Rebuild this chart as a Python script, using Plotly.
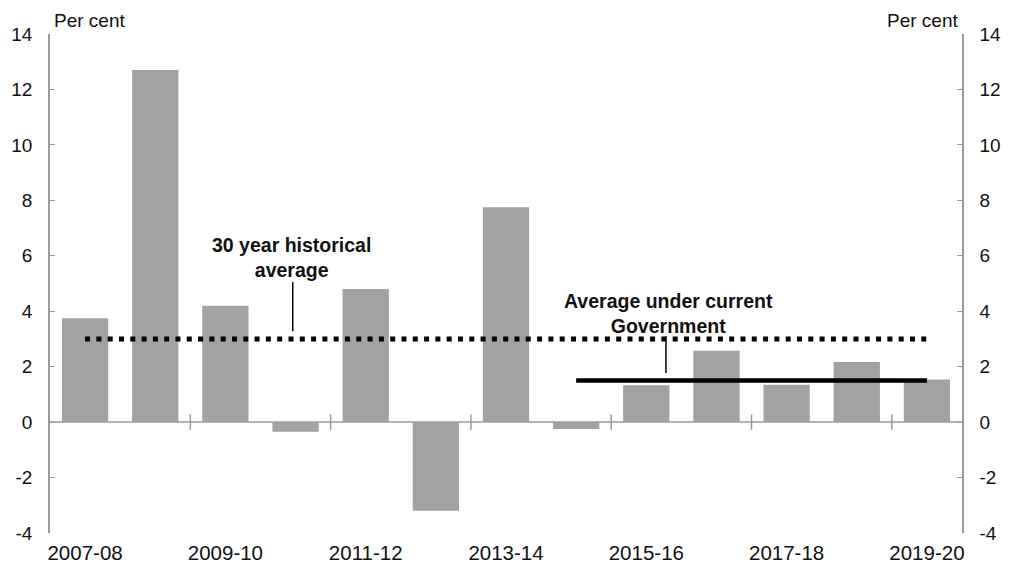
import plotly.graph_objects as go

# financial years and annual growth (per cent)
years = ['2007-08', '2008-09', '2009-10', '2010-11', '2011-12', '2012-13', '2013-14',
         '2014-15', '2015-16', '2016-17', '2017-18', '2018-19', '2019-20']
growth = [3.75, 12.7, 4.2, -0.35, 4.8, -3.2, 7.75, -0.25, 1.33, 2.57, 1.35, 2.17, 1.54]

hist_avg = 3.0          # 30 year historical average
hist_span = ['2007-08', '2019-20']
gov_avg = 1.5           # average under current Government
gov_span = ['2014-15', '2019-20']

yticks = [-4, -2, 0, 2, 4, 6, 8, 10, 12, 14]
ylabels = ['-4', '-2', '0', '2', '4', '6', '8', '10', '12', '14']

FONT = 'Liberation Sans, Arial, sans-serif'
AXIS = '#9a9a9a'

xs = list(range(len(years)))
idx = {y: i for i, y in enumerate(years)}

fig = go.Figure()
fig.add_trace(go.Bar(x=xs, y=growth, marker=dict(color='#a2a2a2', line=dict(width=0)),
                     hoverinfo='x+y'))

# average lines
fig.add_trace(go.Scatter(x=[idx[hist_span[0]], idx[hist_span[1]]], y=[hist_avg, hist_avg],
                         mode='lines', line=dict(color='black', width=5, dash='5px,6.3px')))
fig.add_trace(go.Scatter(x=[idx[gov_span[0]], idx[gov_span[1]]], y=[gov_avg, gov_avg],
                         mode='lines', line=dict(color='black', width=4.5)))

# small ticks on the zero line between pairs of years
fig.add_trace(go.Scatter(x=[i + 0.5 for i in xs[1:-1:2]], y=[0] * len(xs[1:-1:2]),
                         mode='markers', marker=dict(symbol='line-ns', size=11,
                                                     line=dict(color=AXIS, width=1.5)),
                         hoverinfo='skip'))

# leader lines for the labels
fig.add_shape(type='line', x0=2.96, x1=2.96, y0=3.28, y1=5.05, line=dict(color='black', width=1.5))
fig.add_shape(type='line', x0=8.28, x1=8.28, y0=1.77, y1=3.1, line=dict(color='black', width=1.5))

fig.add_annotation(x=2.94, y=5.95, text='<b>30 year historical<br>average</b>', showarrow=False,
                   font=dict(family=FONT, size=19.5, color='#111'))
fig.add_annotation(x=8.32, y=3.9, text='<b>Average under current<br>Government</b>', showarrow=False,
                   font=dict(family=FONT, size=19.5, color='#111'))

# axis titles
fig.add_annotation(xref='paper', yref='paper', x=0.002, y=1.0, yanchor='bottom', yshift=1,
                   xanchor='left', text='Per cent', showarrow=False,
                   font=dict(family=FONT, size=19, color='#111'))
fig.add_annotation(xref='paper', yref='paper', x=0.998, y=1.0, yanchor='bottom', yshift=1,
                   xanchor='right', text='Per cent', showarrow=False,
                   font=dict(family=FONT, size=19, color='#111'))

yax = dict(range=[-4, 14], tickvals=yticks, ticktext=ylabels, ticks='inside', ticklen=5,
           tickcolor=AXIS, showline=True, linecolor=AXIS, linewidth=1.5, showgrid=False,
           zeroline=False, automargin=False, ticklabelstandoff=12,
           tickfont=dict(family=FONT, size=19, color='#111'))

# page body has an 8px margin, so the figure is sized to fit inside the window
fig.update_layout(
    width=1001, height=559,
    margin=dict(l=42, r=47, t=26, b=34),
    paper_bgcolor='white', plot_bgcolor='white',
    showlegend=False, bargap=0.34,
    xaxis=dict(range=[-0.5, len(years) - 0.5], tickvals=xs[::2], ticktext=years[::2],
               ticks='', showline=False, showgrid=False, zeroline=False, automargin=False,
               ticklabelstandoff=5,
               tickfont=dict(family=FONT, size=20.5, color='#111')),
    yaxis=dict(**yax, side='left'),
    yaxis2=dict(**yax, side='right', overlaying='y', matches='y'),
)
# zero line across the plot
fig.add_hline(y=0, line=dict(color=AXIS, width=1.5), layer='below')
# invisible trace to show the right axis
fig.add_trace(go.Scatter(x=[0], y=[0], yaxis='y2', mode='markers', marker=dict(opacity=0),
                         hoverinfo='skip'))

fig.write_html('out.html')
